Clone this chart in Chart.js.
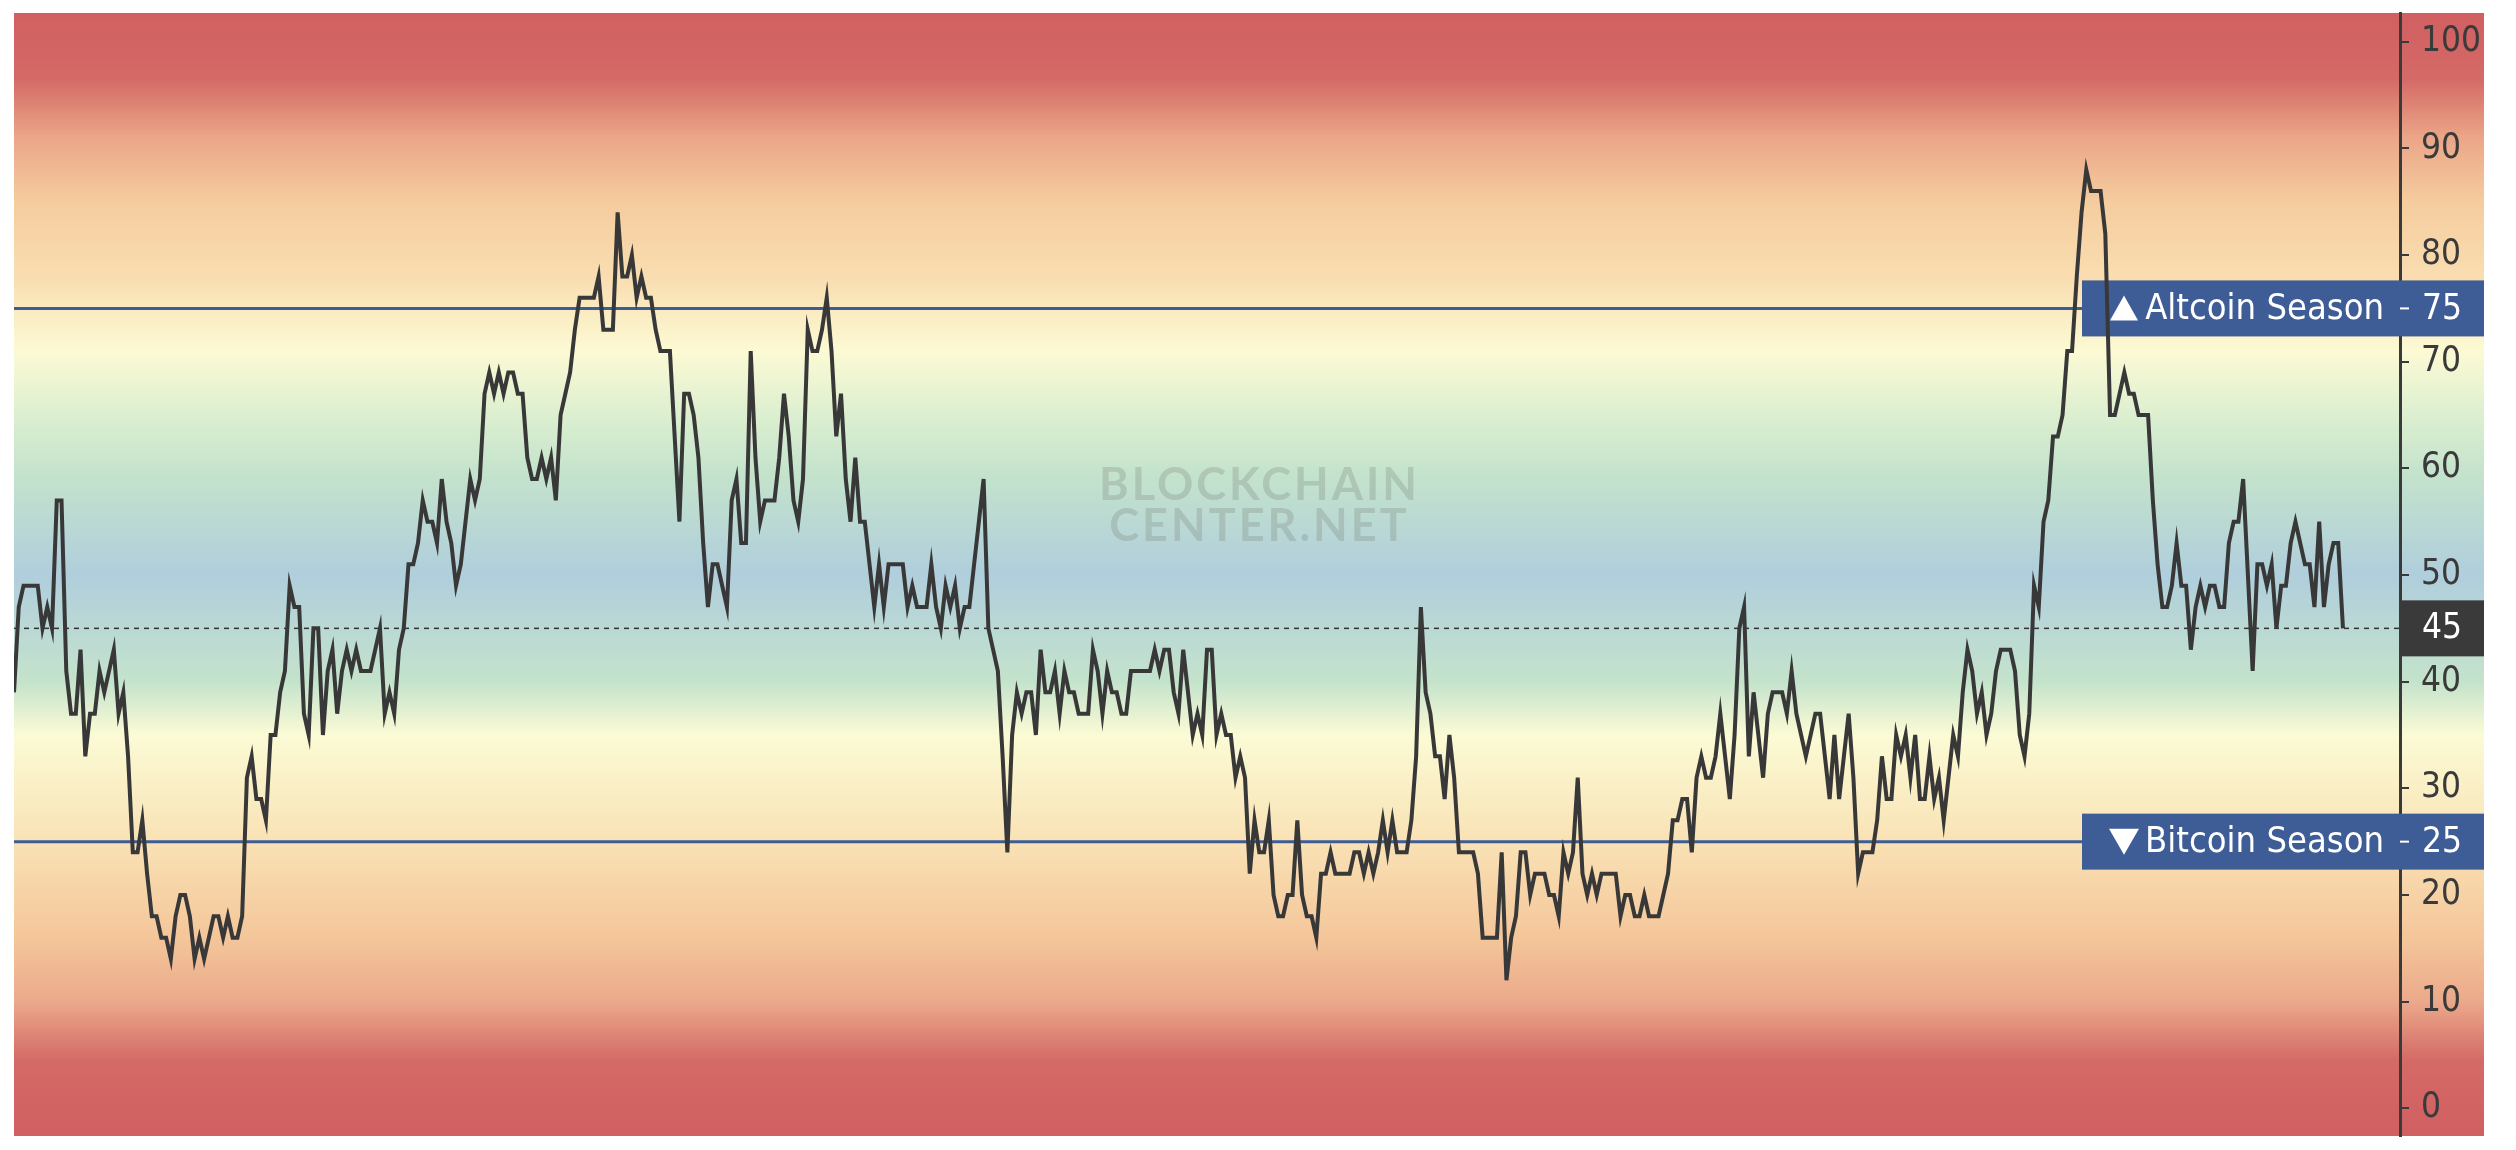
<!DOCTYPE html>
<html>
<head>
<meta charset="utf-8">
<script src="https://cdn.jsdelivr.net/npm/chart.js@4.4.0/dist/chart.umd.min.js"></script>
<style>
    html, body { margin: 0; padding: 0; background: #fff; }
    #wrap { width: 2516px; height: 1150px; position: relative; }
</style>
</head>
<body>
<div id="wrap"><canvas id="chart"></canvas></div>
<script>
// day number (since first point) and Altcoin Season Index value at each turning point
const days = [
    0, 1, 2, 5, 6, 7, 8, 9, 10, 11, 12, 13, 14, 15, 16, 17, 18, 19,
    21, 22, 23, 24, 25, 26, 27, 28, 29, 30, 31, 32, 33, 34, 35, 36, 37, 38, 39, 40, 42, 43, 44, 45, 46, 47, 48,
    49, 50, 51, 52, 53, 54, 55, 56, 57, 58, 59, 60, 61, 62, 63, 64, 65, 66, 67, 68, 69, 70, 71, 72, 73, 75,
    77, 78, 79, 80, 81, 82, 83, 84, 85, 86, 87, 88, 89, 90, 91, 92, 93, 94, 95, 96, 97, 98,
    99, 100, 101, 102, 103, 104, 105, 106, 107, 108, 109, 110, 111, 112, 113, 114, 115, 116, 117, 118, 119, 122, 123, 124, 126,
    127, 128, 129, 130, 131, 132, 133, 134, 135, 136, 138, 139, 140, 141, 142, 143, 144, 145, 146, 147, 148, 149, 150,
    151, 152, 153, 154, 155, 156, 157, 158, 160, 161, 162, 163, 164, 165, 166, 167, 168, 169, 170, 171, 172, 173, 174, 175, 176, 177, 178, 179, 180, 181, 182, 183, 184,
    187, 188, 189, 190, 192, 193, 194, 195, 196, 197, 198, 199, 200, 201, 202, 203, 204, 205, 206, 207, 208, 209, 210,
    211, 212, 213, 214, 215, 216, 217, 218, 219, 220, 221, 222, 223, 224, 226, 227, 228, 229, 230, 231, 232, 233, 234, 235,
    239, 240, 241, 242, 243, 244, 245, 246, 247, 248, 249, 250, 251, 252, 253, 254, 255, 256, 257, 258, 259,
    260, 261, 262, 263, 264, 265, 266, 267, 268, 269, 270, 271, 272, 273, 274, 275, 276, 277, 278, 281,
    282, 283, 284, 285, 286, 287, 288, 289, 290, 291, 293, 294, 295, 296, 297, 298, 299, 300, 301, 302, 303, 304,
    307, 308, 309, 312, 313, 314, 315, 316, 317, 318, 319, 320, 322, 323, 324, 325, 326, 327, 328, 329,
    330, 331, 332, 333, 334, 337, 338, 339, 340, 341, 342, 343, 344, 346, 347, 348, 349, 350, 351, 352, 353,
    354, 355, 356, 357, 358, 359, 360, 361, 362, 363, 364, 365, 366, 367, 368, 369, 370, 372, 373, 374, 375, 376, 377, 378, 379, 380,
    381, 382, 383, 384, 385, 386, 387, 388, 389, 391, 392, 393, 394, 395, 396, 397, 398, 399, 400, 401, 402, 403, 404, 405, 406, 407, 408, 409,
    410, 411, 412, 413, 414, 415, 416, 417, 418, 420, 421, 422, 423, 424, 425, 426, 427, 428, 429, 430, 431, 432, 433, 434, 435, 436, 437, 439, 440,
    441, 442, 444, 445, 446, 447, 449, 450, 451, 452, 453, 454, 455, 456, 457, 458, 459, 460, 461, 462, 463, 464, 465, 466, 467, 468, 469,
    471, 472, 473, 474, 475, 476, 477, 478, 479, 480, 481, 482, 483, 484, 485, 486, 487, 488, 489, 490
];
const seasonIndex = [
    39, 47, 49, 49, 45, 47, 45, 57, 57, 41, 37, 37, 43, 33, 37, 37, 41, 39,
    43, 37, 39, 33, 24, 24, 27, 22, 18, 18, 16, 16, 14, 18, 20, 20, 18, 14, 16, 14, 18, 18, 16, 18, 16, 16, 18,
    31, 33, 29, 29, 27, 35, 35, 39, 41, 49, 47, 47, 37, 35, 45, 45, 35, 41, 43, 37, 41, 43, 41, 43, 41, 41,
    45, 37, 39, 37, 43, 45, 51, 51, 53, 57, 55, 55, 53, 59, 55, 53, 49, 51, 55, 59, 57, 59,
    67, 69, 67, 69, 67, 69, 69, 67, 67, 61, 59, 59, 61, 59, 61, 57, 65, 67, 69, 73, 76, 76, 78, 73, 73,
    84, 78, 78, 80, 76, 78, 76, 76, 73, 71, 71, 63, 55, 67, 67, 65, 61, 53, 47, 51, 51, 49, 47,
    57, 59, 53, 53, 71, 61, 55, 57, 57, 61, 67, 63, 57, 55, 59, 73, 71, 71, 73, 76, 71, 63, 67, 59, 55, 61, 55, 55, 51, 47, 51, 47, 51,
    51, 47, 49, 47, 47, 51, 47, 45, 49, 47, 49, 45, 47, 47, 51, 55, 59, 45, 43, 41, 33, 24, 35,
    39, 37, 39, 39, 35, 43, 39, 39, 41, 37, 41, 39, 39, 37, 37, 43, 41, 37, 41, 39, 39, 37, 37, 41,
    41, 43, 41, 43, 43, 39, 37, 43, 39, 35, 37, 35, 43, 43, 35, 37, 35, 35, 31, 33, 31,
    22, 27, 24, 24, 27, 20, 18, 18, 20, 20, 27, 20, 18, 18, 16, 22, 22, 24, 22, 22,
    24, 24, 22, 24, 22, 24, 27, 24, 27, 24, 24, 27, 33, 47, 39, 37, 33, 33, 29, 35, 31, 24,
    24, 22, 16, 16, 24, 12, 16, 18, 24, 24, 20, 22, 22, 20, 20, 18, 24, 22, 24, 31,
    22, 20, 22, 20, 22, 22, 18, 20, 20, 18, 18, 20, 18, 18, 20, 22, 27, 27, 29, 29, 24,
    31, 33, 31, 31, 33, 37, 33, 29, 35, 45, 47, 33, 39, 35, 31, 37, 39, 39, 37, 41, 37, 35, 33, 35, 37, 37,
    33, 29, 35, 29, 33, 37, 31, 22, 24, 24, 27, 33, 29, 29, 35, 33, 35, 31, 35, 29, 29, 33, 29, 31, 27, 31, 35, 33,
    39, 43, 41, 37, 39, 35, 37, 41, 43, 43, 41, 35, 33, 37, 49, 47, 55, 57, 63, 63, 65, 71, 71, 78, 84, 88, 86, 86, 82,
    65, 65, 69, 67, 67, 65, 65, 57, 51, 47, 47, 49, 53, 49, 49, 43, 47, 49, 47, 49, 49, 47, 47, 53, 55, 55, 59,
    41, 51, 51, 49, 51, 45, 49, 49, 53, 55, 53, 51, 51, 47, 55, 47, 51, 53, 53, 45
];
const lastDay = 502;
const tickValues = [0, 10, 20, 30, 40, 50, 60, 70, 80, 90, 100];
const altcoinLevel = 75;
const bitcoinLevel = 25;
const currentValue = 45;

const FONT = "'DejaVu Sans Condensed', 'DejaVu Sans', sans-serif";
const INK = '#3a3a3a';
const BLUE = '#3e5c96';

// colour of the background band at a given index value
const bandStops = [
    [103, '#d15f61'], [96.5, '#d46a66'], [91, '#eba688'], [85, '#f5cc9e'], [78, '#f9ddb0'],
    [71, '#fcfad4'], [65, '#dcefd0'], [59.5, '#c4e3cc'], [50, '#b0cedc'], [40, '#c4e3cc'],
    [35, '#fbfbd5'], [25, '#f9e2b5'], [16, '#f4c69a'], [10, '#eba98b'], [4.5, '#d46a66'], [-3, '#d15f61']
];

const background = {
    id: 'background',
    beforeDraw(chart) {
        const {ctx, chartArea: a, scales: {y}} = chart;
        const h = a.bottom - a.top;
        const g = ctx.createLinearGradient(0, a.top, 0, a.bottom);
        bandStops.forEach(([v, c]) => {
            const p = (y.getPixelForValue(v) - a.top) / h;
            g.addColorStop(Math.min(1, Math.max(0, p)), c);
        });
        ctx.save();
        ctx.fillStyle = g;
        ctx.fillRect(a.left, a.top, y.right - a.left, h);
        ctx.restore();
    }
};

function drawLevelBox(ctx, a, y, v, text, up) {
    const py = y.getPixelForValue(v);
    ctx.fillStyle = BLUE;
    ctx.fillRect(a.right - 318, py - 28, y.right - (a.right - 318), 56);
    ctx.fillStyle = '#fff';
    ctx.font = '36px ' + FONT;
    ctx.textAlign = 'right';
    ctx.textBaseline = 'middle';
    ctx.fillText(text, a.right - 16, py + 1);
    // triangle marker
    const cx = a.right - 276;
    ctx.beginPath();
    if (up) {
        ctx.moveTo(cx, py - 13); ctx.lineTo(cx + 14, py + 12); ctx.lineTo(cx - 14, py + 12);
    } else {
        ctx.moveTo(cx - 15, py - 13); ctx.lineTo(cx + 15, py - 13); ctx.lineTo(cx, py + 13);
    }
    ctx.closePath();
    ctx.fill();
    // tick + value
    ctx.fillRect(a.right, py - 1, 9, 2);
    ctx.textAlign = 'left';
    ctx.font = '35px ' + FONT;
    ctx.fillText(String(v), a.right + 22, py + 1);
}

const levels = {
    id: 'levels',
    beforeDatasetsDraw(chart) {
        const {ctx, chartArea: a, scales: {y}} = chart;
        ctx.save();

        // watermark
        const wx = a.left + (a.right - a.left) * 0.522;
        ctx.fillStyle = 'rgba(125, 135, 125, 0.30)';
        ctx.font = 'bold 45px Lato';
        ctx.letterSpacing = '3px';
        ctx.textAlign = 'center';
        ctx.textBaseline = 'alphabetic';
        ctx.fillText('BLOCKCHAIN', wx, a.top + (a.bottom - a.top) * 0.434);
        ctx.fillText('CENTER.NET', wx, a.top + (a.bottom - a.top) * 0.470);
        ctx.letterSpacing = '0px';

        // season thresholds
        ctx.strokeStyle = BLUE;
        ctx.lineWidth = 3;
        [altcoinLevel, bitcoinLevel].forEach(v => {
            const py = y.getPixelForValue(v);
            ctx.beginPath();
            ctx.moveTo(a.left, py);
            ctx.lineTo(a.right, py);
            ctx.stroke();
        });

        // current value
        const cy = y.getPixelForValue(currentValue);
        ctx.strokeStyle = '#333';
        ctx.lineWidth = 1.5;
        ctx.setLineDash([5, 5]);
        ctx.beginPath();
        ctx.moveTo(a.left, cy);
        ctx.lineTo(a.right, cy);
        ctx.stroke();
        ctx.setLineDash([]);
        ctx.fillStyle = INK;
        ctx.fillRect(a.right, cy - 28, y.right - a.right, 56);
        ctx.fillStyle = '#fff';
        ctx.font = '35px ' + FONT;
        ctx.textAlign = 'left';
        ctx.textBaseline = 'middle';
        ctx.fillText(String(currentValue), a.right + 22, cy + 1);

        drawLevelBox(ctx, a, y, altcoinLevel, 'Altcoin Season', true);
        drawLevelBox(ctx, a, y, bitcoinLevel, 'Bitcoin Season', false);
        ctx.restore();
    }
};

const ctx = document.getElementById('chart').getContext('2d');
new Chart(ctx, {
    type: 'line',
    data: {
        datasets: [{
            data: days.map((d, i) => ({x: d, y: seasonIndex[i]})),
            borderColor: '#383838',
            borderWidth: 4,
            pointRadius: 0,
            tension: 0,
            fill: false
        }]
    },
    options: {
        responsive: true,
        maintainAspectRatio: false,
        animation: false,
        devicePixelRatio: 1,
        layout: {padding: {left: 14, top: 13, right: 32, bottom: 14}},
        plugins: {legend: {display: false}, tooltip: {enabled: false}},
        scales: {
            x: {type: 'linear', min: 0, max: lastDay, display: false},
            y: {
                position: 'right',
                min: -2.6,
                max: 102.7,
                afterBuildTicks: axis => { axis.ticks = tickValues.map(v => ({value: v})); },
                afterFit: axis => {
                    axis.width = 84;
                    axis.paddingTop = 0;
                    axis.paddingBottom = 0;
                },
                grid: {drawOnChartArea: false, color: INK, lineWidth: 2, tickLength: 9},
                border: {display: true, color: INK, width: 3},
                ticks: {color: INK, padding: 12, font: {family: FONT, size: 35}}
            }
        }
    },
    plugins: [background, levels]
});
</script>
</body>
</html>
